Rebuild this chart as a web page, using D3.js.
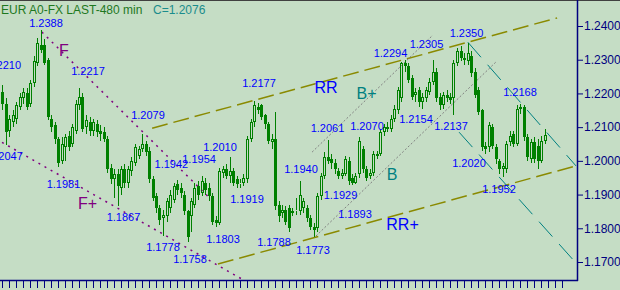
<!DOCTYPE html>
<html><head><meta charset="utf-8">
<script src="https://cdn.jsdelivr.net/npm/d3@7"></script>
<style>html,body{margin:0;padding:0;background:#c5ddc5;overflow:hidden}svg{display:block}</style>
</head><body><svg id="c" width="620" height="290"></svg>
<script>
// ---- data (EUR A0-FX, 480 min bars) ----
const opens=[1.2205,1.2170,1.2090,1.2115,1.2125,1.2160,1.2185,1.2200,1.2170,1.2230,1.2290,1.2345,1.2345,1.2300,1.2125,1.2105,1.2065,1.2000,1.2040,1.2075,
1.2050,1.2090,1.2165,1.2190,1.2100,1.2115,1.2090,1.2110,1.2090,1.2085,1.2065,1.1980,1.1945,1.1960,1.1920,1.1975,1.1935,1.1970,1.1995,1.2015,
1.2035,1.2050,1.2030,1.1945,1.1895,1.1860,1.1830,1.1835,1.1860,1.1885,1.1930,1.1920,1.1900,1.1850,1.1835,1.1870,1.1925,1.1905,1.1935,1.1920,
1.1895,1.1825,1.1815,1.1965,1.1975,1.1955,1.1970,1.1945,1.1930,1.1935,1.1945,1.2065,1.2115,1.2160,1.2165,1.2135,1.2110,1.2055,1.2065,1.1870,
1.1845,1.1855,1.1860,1.1845,1.1850,1.1850,1.1860,1.1860,1.1830,1.1805,1.1800,1.1895,1.1955,1.2010,1.2005,1.1995,1.1970,1.1955,1.1960,1.2000,
1.1950,1.1935,1.1960,1.2035,1.1975,1.1955,1.1965,1.2020,1.2020,1.2085,1.2100,1.2095,1.2125,1.2150,1.2185,1.2290,1.2280,1.2245,1.2195,1.2210,
1.2175,1.2185,1.2205,1.2235,1.2265,1.2190,1.2165,1.2195,1.2190,1.2185,1.2290,1.2325,1.2305,1.2295,1.2310,1.2265,1.2210,1.2150,1.2045,1.2040,
1.2100,1.2040,1.2000,1.1975,1.1975,1.2055,1.2080,1.2050,1.2155,1.2160,1.2070,1.2005,1.2055,1.2045,1.2000,1.2060];
const highs=[1.2225,1.2185,1.2135,1.2150,1.2175,1.2200,1.2215,1.2215,1.2240,1.2310,1.2365,1.2388,1.2360,1.2305,1.2135,1.2115,1.2070,1.2070,1.2080,1.2090,
1.2110,1.2180,1.2217,1.2200,1.2135,1.2130,1.2125,1.2120,1.2105,1.2100,1.2075,1.1990,1.1975,1.1975,1.1985,1.1990,1.1985,1.2010,1.2050,1.2045,
1.2079,1.2060,1.2040,1.1955,1.1905,1.1870,1.1855,1.1890,1.1915,1.1935,1.1942,1.1935,1.1910,1.1855,1.1890,1.1935,1.1940,1.1954,1.1950,1.1935,
1.1905,1.1835,1.1980,1.1985,1.1990,1.2010,1.1980,1.1955,1.1945,1.1960,1.2075,1.2125,1.2177,1.2172,1.2170,1.2140,1.2115,1.2080,1.2145,1.1880,
1.1870,1.1865,1.1870,1.1860,1.1890,1.1940,1.1890,1.1870,1.1840,1.1815,1.1905,1.1965,1.2025,1.2061,1.2020,1.2005,1.1980,1.1975,1.2015,1.2010,
1.1960,1.1965,1.2070,1.2045,1.1985,1.1975,1.2030,1.2030,1.2095,1.2110,1.2115,1.2135,1.2165,1.2220,1.2294,1.2300,1.2290,1.2255,1.2215,1.2220,
1.2200,1.2220,1.2245,1.2300,1.2275,1.2200,1.2205,1.2210,1.2200,1.2300,1.2335,1.2340,1.2320,1.2350,1.2325,1.2275,1.2220,1.2155,1.2055,1.2115,
1.2110,1.2050,1.2005,1.1995,1.2060,1.2090,1.2090,1.2165,1.2168,1.2165,1.2080,1.2065,1.2070,1.2065,1.2075,1.2095];
const lows=[1.2150,1.2047,1.2070,1.2100,1.2110,1.2150,1.2170,1.2150,1.2160,1.2220,1.2280,1.2320,1.2285,1.2120,1.2085,1.2050,1.1981,1.1990,1.2000,1.2030,
1.2040,1.2080,1.2150,1.2085,1.2080,1.2075,1.2075,1.2070,1.2060,1.2055,1.1965,1.1930,1.1890,1.1867,1.1900,1.1920,1.1920,1.1955,1.1985,1.2005,
1.2025,1.2015,1.1935,1.1880,1.1845,1.1810,1.1778,1.1820,1.1845,1.1875,1.1900,1.1890,1.1840,1.1758,1.1790,1.1860,1.1885,1.1895,1.1900,1.1880,
1.1810,1.1803,1.1810,1.1950,1.1945,1.1935,1.1925,1.1920,1.1919,1.1925,1.1935,1.2055,1.2100,1.2140,1.2120,1.2095,1.2050,1.2035,1.1855,1.1820,
1.1830,1.1810,1.1788,1.1835,1.1840,1.1840,1.1845,1.1820,1.1795,1.1773,1.1790,1.1885,1.1945,1.1990,1.1975,1.1960,1.1945,1.1945,1.1955,1.1929,
1.1929,1.1930,1.1950,1.1965,1.1940,1.1945,1.1955,1.2005,1.2015,1.2075,1.2085,1.2085,1.2115,1.2140,1.2175,1.2265,1.2230,1.2180,1.2175,1.2160,
1.2154,1.2175,1.2195,1.2225,1.2175,1.2150,1.2155,1.2175,1.2170,1.2137,1.2280,1.2295,1.2285,1.2285,1.2250,1.2185,1.2135,1.2030,1.2020,1.2025,
1.2035,1.1990,1.1960,1.1952,1.1965,1.2045,1.2040,1.2045,1.2140,1.2060,1.2000,1.1995,1.1995,1.1975,1.1995,1.2050];
const closes=[1.2170,1.2085,1.2125,1.2135,1.2165,1.2190,1.2205,1.2160,1.2230,1.2295,1.2350,1.2330,1.2290,1.2130,1.2100,1.2065,1.1995,1.2050,1.2070,1.2040,
1.2100,1.2170,1.2190,1.2095,1.2120,1.2090,1.2115,1.2085,1.2080,1.2065,1.1975,1.1945,1.1960,1.1925,1.1975,1.1935,1.1975,1.2000,1.2040,1.2035,
1.2050,1.2025,1.1945,1.1890,1.1860,1.1825,1.1840,1.1880,1.1900,1.1925,1.1915,1.1905,1.1850,1.1775,1.1880,1.1920,1.1900,1.1940,1.1915,1.1895,
1.1820,1.1815,1.1970,1.1975,1.1955,1.1970,1.1935,1.1930,1.1935,1.1950,1.2065,1.2115,1.2165,1.2150,1.2130,1.2110,1.2060,1.2065,1.1865,1.1835,
1.1855,1.1820,1.1800,1.1850,1.1855,1.1900,1.1880,1.1830,1.1805,1.1795,1.1895,1.1955,1.2010,1.2000,1.1995,1.1975,1.1955,1.1965,1.2005,1.1940,
1.1935,1.1955,1.2060,1.1975,1.1950,1.1965,1.2020,1.2015,1.2085,1.2100,1.2095,1.2125,1.2155,1.2210,1.2290,1.2280,1.2240,1.2190,1.2205,1.2175,
1.2190,1.2210,1.2235,1.2265,1.2185,1.2165,1.2195,1.2185,1.2180,1.2290,1.2325,1.2305,1.2300,1.2320,1.2260,1.2195,1.2145,1.2040,1.2035,1.2105,
1.2045,1.2005,1.1975,1.1985,1.2050,1.2075,1.2050,1.2155,1.2160,1.2070,1.2010,1.2055,1.2005,1.2000,1.2060,1.2076];

const yTicks=[1.17,1.18,1.19,1.20,1.21,1.22,1.23,1.24];

// pivot annotations: text, bar position, price position
const pivotText=["1.2388","1.2210","1.2217","1.2079","1.2047","1.1981","1.1867","1.1942","1.1954","1.2010",
"1.1778","1.1758","1.1919","1.1803","1.2177","1.1788","1.1773","1.1940","1.2061","1.2070",
"1.1929","1.1893","1.2294","1.2305","1.2350","1.2154","1.2137","1.2168","1.2020","1.1952"];
const pivotBar=[12.57,0.63,24.57,41.71,1.14,17.57,34.71,48.4,56.3,62.29,
46,53.71,70,63.14,73.43,77.71,88.86,85.43,93,104.29,
96.71,100.86,111,121.29,132.71,118.29,128.29,148,133.43,142];
const pivotPrice=[1.2397,1.2272,1.2255,1.2124,1.2003,1.1920,1.1822,1.1978,1.1994,1.2029,
1.1733,1.1697,1.1875,1.1756,1.2219,1.1747,1.1724,1.1964,1.2086,1.2092,
1.1887,1.1831,1.2308,1.2335,1.2367,1.2112,1.2092,1.2192,1.1982,1.1905];

// pattern tags
const tagText=["F","F+","RR","B+","B","RR+"];
const tagBar=[17.71,24.43,92.57,104.14,111.43,114.43];
const tagPrice=[1.2311,1.1857,1.2201,1.2183,1.1943,1.1795];

// trend lines: [startBar, startPrice, endBar, endPrice]
const lineF=[11.4,1.2382,59.0,1.1893];
const lineFplus=[0,1.2055,68.6,1.1649];
const lineRR=[42.9,1.2097,158.6,1.2424];
const lineRRplus=[61.7,1.1694,164,1.1985];
const lineB=[89.7,1.1777,141.4,1.2296];
const lineBplus=[88.6,1.2026,123.1,1.2373];
const lineT1=[133.1,1.2352,164,1.1985];
const lineT2=[130.6,1.2085,164,1.1697];

// ---- drawing ----
const svg=d3.select("#c");
const W=620,H=290, axisX=577, axisY=280;
const x=d3.scaleLinear().domain([0,161]).range([2,565.5]);
const y=d3.scaleLinear().domain([1.17,1.24]).range([262,26]);
const FONT="'Liberation Sans', Arial, sans-serif";
const GREEN="#008000";

svg.append("rect").attr("width",W).attr("height",H).attr("fill","#c5ddc5");
svg.append("line").attr("x1",0).attr("x2",W).attr("y1",0.5).attr("y2",0.5).attr("stroke","#404040");

// trend lines
function tl(arr,color,dash,w){
  svg.append("line").attr("x1",x(arr[0])).attr("y1",y(arr[1])).attr("x2",x(arr[2])).attr("y2",y(arr[3]))
    .attr("stroke",color).attr("stroke-width",w).attr("stroke-dasharray",dash).attr("fill","none");
}
tl(lineRR,"#8a8a00","16,6",1.5);
tl(lineRRplus,"#8a8a00","16,6",1.5);
tl(lineB,"#808080","2,2",1);
tl(lineBplus,"#808080","2,2",1);
tl(lineF,"#800080","2,5",1.5);
tl(lineFplus,"#800080","2,5",1.5);
tl(lineT1,"#008080","20,10",1);
tl(lineT2,"#008080","20,10",1);

// candles
const idx=d3.range(opens.length);
const g=svg.append("g");
idx.forEach(i=>{
  const px=Math.round(x(i));
  const o=opens[i],c=closes[i],h=highs[i],l=lows[i];
  const top=Math.round(y(Math.max(o,c))), bot=Math.round(y(Math.min(o,c)));
  const yh=Math.round(y(h)), yl=Math.round(y(l));
  if(c>=o){
    g.append("line").attr("x1",px+0.5).attr("x2",px+0.5).attr("y1",yh).attr("y2",top).attr("stroke",GREEN);
    g.append("line").attr("x1",px+0.5).attr("x2",px+0.5).attr("y1",bot).attr("y2",yl).attr("stroke",GREEN);
    g.append("rect").attr("x",px-0.5).attr("y",top+0.5).attr("width",2).attr("height",Math.max(bot-top-1,0))
      .attr("fill","none").attr("stroke",GREEN).attr("stroke-width",1);
  } else {
    g.append("line").attr("x1",px+0.5).attr("x2",px+0.5).attr("y1",yh).attr("y2",yl).attr("stroke",GREEN);
    g.append("rect").attr("x",px-1).attr("y",top).attr("width",3).attr("height",Math.max(bot-top,1)).attr("fill",GREEN);
  }
});

// axes
const yAxis=d3.axisRight(y).tickValues(yTicks).tickFormat(d3.format(".4f")).tickSize(6).tickPadding(1);
const ya=svg.append("g").attr("transform",`translate(${axisX},0)`).call(yAxis);
ya.select(".domain").remove();
ya.selectAll("line").attr("stroke","#000080").attr("stroke-width",1);
ya.selectAll("text").attr("fill","#000080").style("font-family",FONT).style("font-size","12px");
svg.append("line").attr("x1",axisX+0.5).attr("x2",axisX+0.5).attr("y1",0).attr("y2",axisY+1).attr("stroke","#000080").attr("stroke-width",1.5);

const xAxis=d3.axisBottom(x).tickValues(d3.range(0,162,2)).tickFormat("").tickSize(8);
const xa=svg.append("g").attr("transform",`translate(0,${axisY})`).call(xAxis);
xa.select(".domain").remove();
xa.selectAll("line").attr("stroke","#000080");
svg.append("line").attr("x1",0).attr("x2",axisX+1).attr("y1",axisY+0.5).attr("y2",axisY+0.5).attr("stroke","#000080").attr("stroke-width",1.5);

// pivot labels
svg.append("g").selectAll("text").data(pivotText).join("text")
  .attr("x",(d,i)=>x(pivotBar[i])).attr("y",(d,i)=>y(pivotPrice[i]))
  .attr("text-anchor","middle").attr("fill","#0000ff")
  .style("font-family",FONT).style("font-size","11px").text(d=>d);

// pattern tags
const tagColor={"F":"#800080","F+":"#800080","RR":"#0000ff","RR+":"#0000ff","B":"#008080","B+":"#008080"};
svg.append("g").selectAll("text").data(tagText).join("text")
  .attr("x",(d,i)=>x(tagBar[i])).attr("y",(d,i)=>y(tagPrice[i]))
  .attr("text-anchor","middle").attr("fill",d=>tagColor[d])
  .style("font-family",FONT).style("font-size","16px").text(d=>d);

// title
svg.append("text").attr("x",1).attr("y",14).attr("fill","#1e781e").style("font-family",FONT).style("font-size","12px")
  .text("EUR A0-FX LAST-480 min");
svg.append("text").attr("x",153).attr("y",14).attr("fill","#1a8c8c").style("font-family",FONT).style("font-size","12px")
  .text("C="+d3.format(".4f")(closes[closes.length-1]));
</script>
</body></html>
